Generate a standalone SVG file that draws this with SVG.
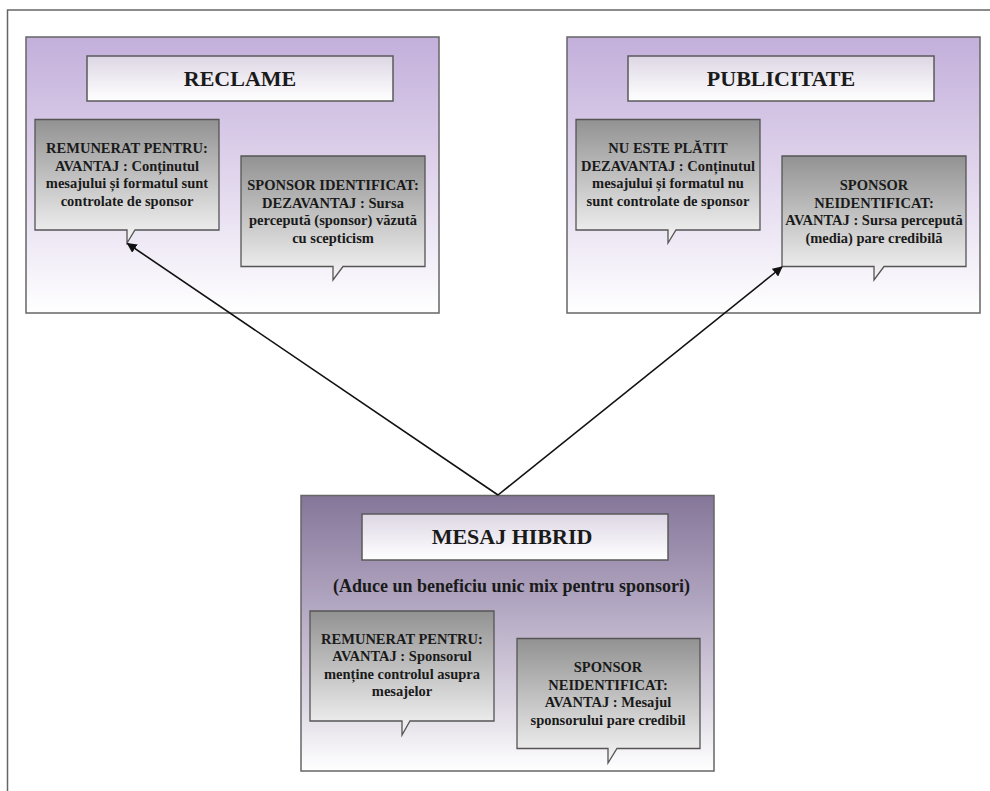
<svg xmlns="http://www.w3.org/2000/svg" width="990" height="791" viewBox="0 0 990 791">
  <defs>
    <linearGradient id="gPanel" x1="0" y1="0" x2="0" y2="1">
      <stop offset="0" stop-color="#c3afdb"/>
      <stop offset="0.55" stop-color="#e3d9ee"/>
      <stop offset="1" stop-color="#ffffff"/>
    </linearGradient>
    <linearGradient id="gPanelDark" x1="0" y1="0" x2="0" y2="1">
      <stop offset="0" stop-color="#857699"/>
      <stop offset="0.4" stop-color="#b2a7c2"/>
      <stop offset="0.75" stop-color="#dcd6e2"/>
      <stop offset="1" stop-color="#ffffff"/>
    </linearGradient>
    <linearGradient id="gTitle" x1="0" y1="0" x2="0" y2="1">
      <stop offset="0" stop-color="#ddd6e4"/>
      <stop offset="1" stop-color="#ffffff"/>
    </linearGradient>
    <linearGradient id="gCallout" x1="0" y1="0" x2="0" y2="1">
      <stop offset="0" stop-color="#929292"/>
      <stop offset="1" stop-color="#f6f6f6"/>
    </linearGradient>
    <marker id="arrow" viewBox="0 0 10 10" refX="9" refY="5" markerWidth="10" markerHeight="10" markerUnits="userSpaceOnUse" orient="auto">
      <path d="M0,0 L10,5 L0,10 Z" fill="#111"/>
    </marker>
  </defs>
  <style>
    .frame { stroke: #666; stroke-width: 1.5; fill: none; }
    .panel { fill: url(#gPanel); stroke: #666; stroke-width: 1.5; }
    .panelDark { fill: url(#gPanelDark); stroke: #666; stroke-width: 1.5; }
    .title { fill: url(#gTitle); stroke: #5a5a5a; stroke-width: 1.5; }
    .callout { fill: url(#gCallout); stroke: #555; stroke-width: 1.3; }
    .t { font-family: "Liberation Serif", "Times New Roman", serif; font-weight: bold; fill: #1a1a1a; text-anchor: middle; }
    .big { font-size: 22px; }
    .sub { font-size: 18px; }
    .small { font-size: 14.5px; }
    .conn { stroke: #111; stroke-width: 1.6; fill: none; }
  </style>

  <rect width="990" height="791" fill="#ffffff"/>
  <!-- page frame (top and left edges only) -->
  <path class="frame" d="M7.5,791 V10 H990"/>

  <!-- RECLAME panel -->
  <g id="reclame">
    <rect class="panel" x="26" y="37" width="413" height="276"/>
    <rect class="title" x="87" y="56" width="306" height="45"/>
    <text class="t big" x="240" y="86">RECLAME</text>
    <g id="reclame-remunerat">
      <path class="callout" d="M35,119.5 H219 V230 H135 L127,243 V230 H35 Z"/>
      <text class="t small" x="127" y="153">REMUNERAT PENTRU:</text>
      <text class="t small" x="127" y="170.5">AVANTAJ : Conținutul</text>
      <text class="t small" x="127" y="188">mesajului și formatul sunt</text>
      <text class="t small" x="127" y="205.5">controlate de sponsor</text>
    </g>
    <g id="reclame-sponsor">
      <path class="callout" d="M241,156 H425 V266.5 H343 L333,280 V266.5 H241 Z"/>
      <text class="t small" x="333" y="190">SPONSOR IDENTIFICAT:</text>
      <text class="t small" x="333" y="207.5">DEZAVANTAJ : Sursa</text>
      <text class="t small" x="333" y="225">percepută (sponsor) văzută</text>
      <text class="t small" x="333" y="242.5">cu scepticism</text>
    </g>
  </g>

  <!-- PUBLICITATE panel -->
  <g id="publicitate">
    <rect class="panel" x="567" y="37" width="413" height="276"/>
    <rect class="title" x="628" y="56" width="306" height="45"/>
    <text class="t big" x="781" y="86">PUBLICITATE</text>
    <g id="publicitate-neplatit">
      <path class="callout" d="M576,119.5 H760 V230 H676 L668,243 V230 H576 Z"/>
      <text class="t small" x="668" y="153">NU ESTE PLĂTIT</text>
      <text class="t small" x="668" y="170.5">DEZAVANTAJ : Conținutul</text>
      <text class="t small" x="668" y="188">mesajului și formatul nu</text>
      <text class="t small" x="668" y="205.5">sunt controlate de sponsor</text>
    </g>
    <g id="publicitate-sponsor">
      <path class="callout" d="M782,156 H966 V266.5 H884 L874,280 V266.5 H782 Z"/>
      <text class="t small" x="874" y="190">SPONSOR</text>
      <text class="t small" x="874" y="207.5">NEIDENTIFICAT:</text>
      <text class="t small" x="874" y="225">AVANTAJ : Sursa percepută</text>
      <text class="t small" x="874" y="242.5">(media) pare credibilă</text>
    </g>
  </g>

  <!-- MESAJ HIBRID panel -->
  <g id="mesaj-hibrid">
    <rect class="panelDark" x="301" y="495.5" width="413" height="275.5"/>
    <rect class="title" x="362" y="514" width="306" height="46"/>
    <text class="t big" x="512" y="544">MESAJ HIBRID</text>
    <text class="t sub" x="511.5" y="592">(Aduce un beneficiu unic mix pentru sponsori)</text>
    <g id="hibrid-remunerat">
      <path class="callout" d="M310,611 H494 V721 H410 L402,735 V721 H310 Z"/>
      <text class="t small" x="402" y="643.5">REMUNERAT PENTRU:</text>
      <text class="t small" x="402" y="661">AVANTAJ : Sponsorul</text>
      <text class="t small" x="402" y="678.5">menține controlul asupra</text>
      <text class="t small" x="402" y="696">mesajelor</text>
    </g>
    <g id="hibrid-sponsor">
      <path class="callout" d="M517,638.5 H700 V748.5 H617 L608,763 V748.5 H517 Z"/>
      <text class="t small" x="608" y="672">SPONSOR</text>
      <text class="t small" x="608" y="689.5">NEIDENTIFICAT:</text>
      <text class="t small" x="608" y="707">AVANTAJ : Mesajul</text>
      <text class="t small" x="608" y="724.5">sponsorului pare credibil</text>
    </g>
  </g>

  <!-- connectors -->
  <g id="connectors">
    <line class="conn" x1="498" y1="495" x2="127.5" y2="243.5" marker-end="url(#arrow)"/>
    <line class="conn" x1="498" y1="495" x2="782" y2="267" marker-end="url(#arrow)"/>
  </g>
</svg>
